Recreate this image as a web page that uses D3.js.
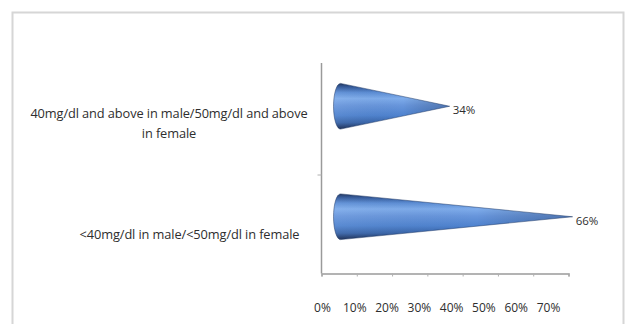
<!DOCTYPE html>
<html>
<head>
<meta charset="utf-8">
<script src="https://cdn.jsdelivr.net/npm/d3@7"></script>
<style>
  html, body { margin: 0; padding: 0; background: #fff; }
  svg { display: block; }
  text { font-family: "Open Sans", "Liberation Sans", sans-serif; fill: #2e2e2e; }
</style>
</head>
<body>
<svg id="chart" width="629" height="324"></svg>
<script>
// HDL cholesterol categories (top to bottom) and their shares
const categories = [
  "40mg/dl and above in male/50mg/dl and above in female",
  "<40mg/dl in male/<50mg/dl in female"
];
const categoryLines = [
  ["40mg/dl and above in male/50mg/dl and above", "in female"],
  ["<40mg/dl in male/<50mg/dl in female"]
];
const values = [0.34, 0.66];
const valueLabels = ["34%", "66%"];
const xTicks = [0, 0.1, 0.2, 0.3, 0.4, 0.5, 0.6, 0.7];

const svg = d3.select("#chart");
const W = 629, H = 324;

// chart area frame
svg.append("path")
  .attr("d", `M12.5,${H} V12.5 H623.5 V${H}`)
  .attr("fill", "none")
  .attr("stroke", "#d6d6d6")
  .attr("stroke-width", 2);

// front value axis (ticks) and its projected label positions
const x = d3.scaleLinear().domain([0, 0.7]).range([321.5, 568.5]);
const xLabel = d3.scaleLinear().domain([0, 0.7]).range([322, 548]);
// cone length along the receding plane
const xCone = d3.scaleLinear().domain([0, 0.7]).range([319, 588]);

// category band for the cones, and the category axis band
const y = d3.scaleBand().domain(categories).range([51, 272]);
const yAxis = d3.scaleBand().domain(categories).range([77, 273]);

// value axis line + ticks
const gx = svg.append("g").attr("transform", "translate(0,273.5)")
  .call(d3.axisBottom(x).tickValues(xTicks).tickSize(3).tickFormat(""));
gx.select(".domain").attr("stroke", "#9a9a9a").attr("stroke-width", 1.5);
gx.selectAll(".tick line").attr("stroke", "#b0b0b0");

// value axis labels
const gxl = svg.append("g").attr("transform", "translate(0,300.5)")
  .call(d3.axisBottom(xLabel).tickValues(xTicks).tickSize(0).tickFormat(d3.format(".0%")));
gxl.select(".domain").remove();
gxl.selectAll("text")
  .attr("font-size", 12)
  .attr("font-family", "'Open Sans', sans-serif")
  .attr("fill", "#2e2e2e");

// category axis line with a tick between categories
const gy = svg.append("g").attr("transform", "translate(321.5,0)");
gy.append("line").attr("y1", 63).attr("y2", 273.5).attr("stroke", "#9a9a9a").attr("stroke-width", 1.5);
gy.selectAll("line.tick")
  .data(categories.slice(1))
  .join("line")
  .attr("class", "tick")
  .attr("x1", -4).attr("x2", 0)
  .attr("y1", d => yAxis(d)).attr("y2", d => yAxis(d))
  .attr("stroke", "#b0b0b0");

// category labels
const labelCenters = [169, 189.5];
svg.append("g").selectAll("text")
  .data(categories)
  .join("text")
  .attr("text-anchor", "middle")
  .attr("font-size", 12.8)
  .attr("letter-spacing", "-0.1px")
  .each(function (d, i) {
    const lines = categoryLines[i];
    const cy = y(d) + y.bandwidth() / 2 + 17.5;
    const lh = 20;
    const top = cy - (lines.length - 1) * lh / 2;
    d3.select(this).selectAll("tspan")
      .data(lines)
      .join("tspan")
      .attr("x", labelCenters[i])
      .attr("y", (_, j) => top + j * lh)
      .attr("dy", "0.35em")
      .text(t => t);
  });

// cone shading
const defs = svg.append("defs");
const grad = defs.append("linearGradient")
  .attr("id", "coneGrad")
  .attr("x1", 0).attr("y1", 0).attr("x2", 0).attr("y2", 1);
[
  [0, "#172c55"], [0.07, "#2b5192"], [0.2, "#5b8dd5"], [0.33, "#7eaceb"],
  [0.48, "#6896dc"], [0.7, "#4f83cf"], [0.86, "#3864a8"], [1, "#152850"]
].forEach(([o, c]) => grad.append("stop").attr("offset", o).attr("stop-color", c));

const tipGrad = defs.append("linearGradient")
  .attr("id", "coneShade")
  .attr("x1", 0).attr("y1", 0).attr("x2", 1).attr("y2", 0);
tipGrad.append("stop").attr("offset", 0).attr("stop-color", "#ffffff").attr("stop-opacity", 0.06);
tipGrad.append("stop").attr("offset", 0.6).attr("stop-color", "#000000").attr("stop-opacity", 0);
tipGrad.append("stop").attr("offset", 1).attr("stop-color", "#0b1a3a").attr("stop-opacity", 0.25);

const baseX = x(0) + 19;
const rx = 7;

const cones = svg.append("g").selectAll("g")
  .data(categories)
  .join("g");

function conePath(d, i) {
  const cy = y(d) + y.bandwidth() / 2;
  const r = y.bandwidth() * 0.207;
  const tip = xCone(values[i]);
  return `M${baseX},${cy - r} L${tip},${cy} L${baseX},${cy + r} ` +
         `A${rx},${r} 0 0 1 ${baseX},${cy - r} Z`;
}

cones.append("path")
  .attr("d", conePath)
  .attr("fill", "url(#coneGrad)");
cones.append("path")
  .attr("d", conePath)
  .attr("fill", "url(#coneShade)")
  .attr("stroke", "#1c3461")
  .attr("stroke-width", 0.8)
  .attr("stroke-opacity", 0.6);

// value labels at the cone tips
svg.append("g").selectAll("text")
  .data(categories)
  .join("text")
  .attr("x", (d, i) => xCone(values[i]) + 3)
  .attr("y", d => y(d) + y.bandwidth() / 2 + 4)
  .attr("dy", "0.35em")
  .attr("font-size", 11.5)
  .text((d, i) => valueLabels[i]);
</script>
</body>
</html>
